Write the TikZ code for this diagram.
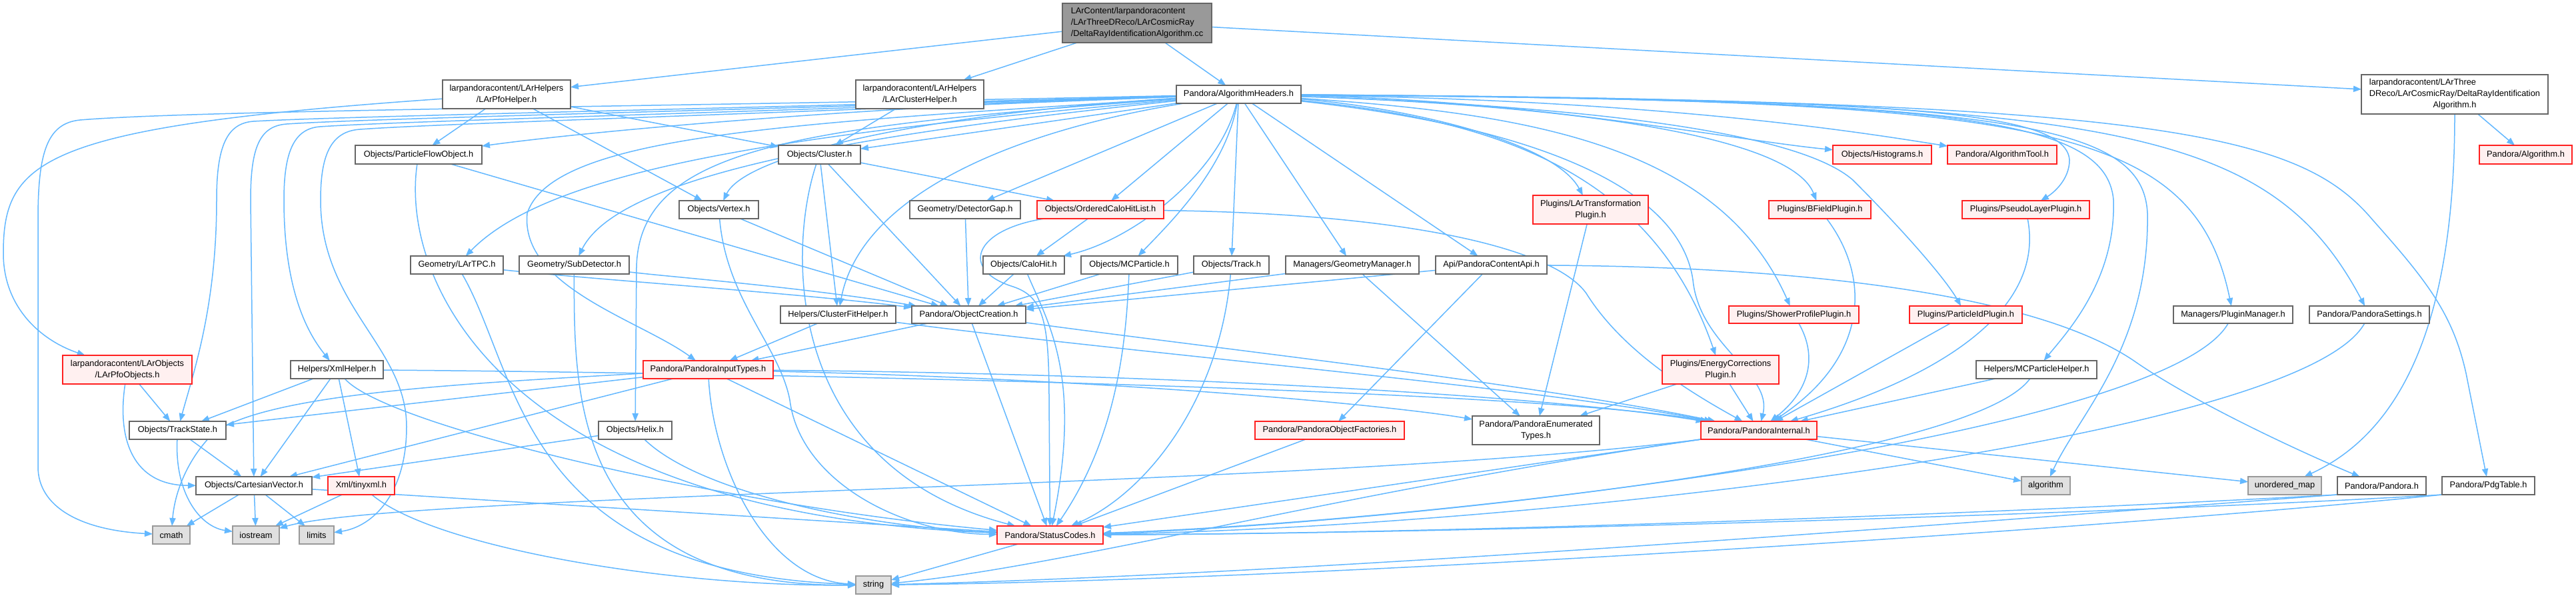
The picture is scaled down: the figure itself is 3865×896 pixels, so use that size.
\documentclass[tikz,border=0pt]{standalone}
\usepackage{fontspec}
\setmainfont{Liberation Sans}
\usetikzlibrary{arrows.meta}
\pgfdeclarelayer{bg}
\pgfsetlayers{bg,main}
\definecolor{edgec}{HTML}{63B8FF}
\definecolor{bordc}{HTML}{666666}
\definecolor{redb}{HTML}{FF2020}
\definecolor{redf}{HTML}{FFF0F0}
\definecolor{grayb}{HTML}{999999}
\definecolor{grayf}{HTML}{E0E0E0}
\definecolor{topf}{HTML}{999999}
\newcommand\gnode[7]{\node[#2, minimum width={(#5-#3)*0.5pt}, minimum height={(#6-#4)*0.5pt}] (#1) at ({(#3+#5)/2},{(#4+#6)/2}) {#7};}
\begin{document}
\begin{tikzpicture}[x=0.5pt,y=-0.5pt,
  font=\fontsize{6.4}{8.5}\selectfont,
  base/.style={draw, line width=1pt, inner sep=0pt, outer sep=0pt, align=center},
  wbox/.style={base, draw=bordc, fill=white},
  rbox/.style={base, draw=redb, fill=redf},
  gbox/.style={base, draw=grayb, fill=grayf},
  tbox/.style={base, draw=bordc, fill=topf, align=left},
  ed/.style={draw=edgec, line width=0.75pt, -{Triangle[length=6pt,width=4.6pt]}}]
\useasboundingbox (0,0) rectangle (3865,896);
% ---- nodes ----
\gnode{top}{tbox}{1594}{5}{1818}{64}{LArContent/larpandoracontent\\/LArThreeDReco/LArCosmicRay\\/DeltaRayIdentificationAlgorithm.cc}
\gnode{pfoh}{wbox}{664}{120}{856}{163}{larpandoracontent/LArHelpers\\/LArPfoHelper.h}
\gnode{clh}{wbox}{1284}{120}{1476}{163}{larpandoracontent/LArHelpers\\/LArClusterHelper.h}
\gnode{ah}{wbox}{1765}{128}{1952}{155}{Pandora/AlgorithmHeaders.h}
\gnode{dra}{wbox}{3543}{112}{3823}{171}{\begin{tabular}{@{}l@{}}larpandoracontent/LArThree\\DReco/LArCosmicRay/DeltaRayIdentification\\\multicolumn{1}{@{}c@{}}{Algorithm.h}\end{tabular}}
\gnode{pfo}{wbox}{533}{218}{723}{246}{Objects/ParticleFlowObject.h}
\gnode{clu}{wbox}{1168}{218}{1291}{246}{Objects/Cluster.h}
\gnode{hist}{rbox}{2750}{218}{2898}{246}{Objects/Histograms.h}
\gnode{atool}{rbox}{2922}{218}{3086}{246}{Pandora/AlgorithmTool.h}
\gnode{alg}{rbox}{3720}{218}{3859}{246}{Pandora/Algorithm.h}
\gnode{vtx}{wbox}{1019}{301}{1138}{328}{Objects/Vertex.h}
\gnode{dgap}{wbox}{1365}{301}{1531}{328}{Geometry/DetectorGap.h}
\gnode{ochl}{rbox}{1556}{301}{1746}{328}{Objects/OrderedCaloHitList.h}
\gnode{ltp}{rbox}{2300}{293}{2473}{336}{Plugins/LArTransformation\\Plugin.h}
\gnode{bfp}{rbox}{2654}{301}{2807}{328}{Plugins/BFieldPlugin.h}
\gnode{plp}{rbox}{2944}{301}{3135}{328}{Plugins/PseudoLayerPlugin.h}
\gnode{tpc}{wbox}{616}{384}{755}{411}{Geometry/LArTPC.h}
\gnode{subd}{wbox}{779}{384}{944}{411}{Geometry/SubDetector.h}
\gnode{calo}{wbox}{1475}{384}{1597}{411}{Objects/CaloHit.h}
\gnode{mcp}{wbox}{1622}{384}{1767}{411}{Objects/MCParticle.h}
\gnode{trk}{wbox}{1791}{384}{1904}{411}{Objects/Track.h}
\gnode{gm}{wbox}{1929}{384}{2129}{411}{Managers/GeometryManager.h}
\gnode{api}{wbox}{2154}{384}{2321}{411}{Api/PandoraContentApi.h}
\gnode{cfh}{wbox}{1171}{459}{1344}{485}{Helpers/ClusterFitHelper.h}
\gnode{oc}{wbox}{1368}{459}{1539}{485}{Pandora/ObjectCreation.h}
\gnode{spp}{rbox}{2594}{459}{2789}{485}{Plugins/ShowerProfilePlugin.h}
\gnode{pidp}{rbox}{2865}{459}{3034}{485}{Plugins/ParticleIdPlugin.h}
\gnode{pm}{wbox}{3261}{459}{3440}{485}{Managers/PluginManager.h}
\gnode{ps}{wbox}{3465}{459}{3645}{485}{Pandora/PandoraSettings.h}
\gnode{lpo}{rbox}{94}{533}{288}{576}{larpandoracontent/LArObjects\\/LArPfoObjects.h}
\gnode{xml}{wbox}{436}{541}{575}{568}{Helpers/XmlHelper.h}
\gnode{pit}{rbox}{965}{541}{1160}{568}{Pandora/PandoraInputTypes.h}
\gnode{ecp}{rbox}{2494}{533}{2669}{576}{Plugins/EnergyCorrections\\Plugin.h}
\gnode{mcph}{wbox}{2965}{541}{3146}{568}{Helpers/MCParticleHelper.h}
\gnode{ts}{wbox}{194}{632}{339}{659}{Objects/TrackState.h}
\gnode{helix}{wbox}{898}{632}{1008}{659}{Objects/Helix.h}
\gnode{pof}{rbox}{1883}{632}{2107}{659}{Pandora/PandoraObjectFactories.h}
\gnode{pet}{wbox}{2209}{624}{2400}{667}{Pandora/PandoraEnumerated\\Types.h}
\gnode{pint}{rbox}{2552}{632}{2726}{659}{Pandora/PandoraInternal.h}
\gnode{cv}{wbox}{294}{715}{468}{742}{Objects/CartesianVector.h}
\gnode{txml}{rbox}{492}{715}{592}{742}{Xml/tinyxml.h}
\gnode{algo}{gbox}{3033}{715}{3106}{742}{algorithm}
\gnode{umap}{gbox}{3373}{715}{3483}{742}{unordered\_map}
\gnode{pan}{wbox}{3507}{715}{3640}{742}{Pandora/Pandora.h}
\gnode{pdg}{wbox}{3664}{715}{3803}{742}{Pandora/PdgTable.h}
\gnode{cmath}{gbox}{229}{789}{285}{816}{cmath}
\gnode{ios}{gbox}{349}{789}{419}{816}{iostream}
\gnode{lim}{gbox}{449}{789}{501}{816}{limits}
\gnode{sc}{rbox}{1496}{789}{1655}{816}{Pandora/StatusCodes.h}
\gnode{str}{gbox}{1284}{864}{1337}{891}{string}
% ---- edges ----
\begin{pgfonlayer}{bg}
\fill[white] (0,0) rectangle (3865,896);
\draw[ed] (top) -- (pfoh);
\draw[ed] (top) -- (clh);
\draw[ed] (top) -- (ah);
\draw[ed] (top) -- (dra);
\draw[ed] (pfoh) -- (pfo);
\draw[ed] (pfoh) -- (clu);
\draw[ed] (pfoh) -- (vtx);
\draw[ed] (pfoh) .. controls (60,190) and (5,240) .. (5,380) .. controls (5,460) and (60,510) .. (lpo);
\draw[ed] (clh) -- (clu);
% AlgorithmHeaders, left side
\draw[ed] (ah) .. controls (1300,160) and (900,195) .. (pfo);
\draw[ed] (ah) -- (clu);
\draw[ed] (ah) .. controls (1400,170) and (1120,230) .. (vtx);
\draw[ed] (ah) -- (dgap);
\draw[ed] (ah) -- (ochl);
\draw[ed] (ah) .. controls (1200,200) and (830,250) .. (tpc);
\draw[ed] (ah) .. controls (1300,200) and (930,260) .. (subd);
\draw[ed] (ah) .. controls (1830,260) and (1700,360) .. (calo);
\draw[ed] (ah) .. controls (1840,250) and (1760,330) .. (mcp);
\draw[ed] (ah) -- (trk);
\draw[ed] (ah) -- (gm);
\draw[ed] (ah) -- (api);
\draw[ed] (ah) .. controls (1500,200) and (1290,300) .. (cfh);
\draw[ed] (ah) .. controls (1000,160) and (300,165) .. (120,180) .. controls (70,185) and (57,230) .. (57,330) -- (57,700) .. controls (57,760) and (120,795) .. (cmath);
\draw[ed] (ah) .. controls (1000,165) and (500,175) .. (380,182) .. controls (340,185) and (325,220) .. (325,300) .. controls (325,460) and (290,560) .. (ts);
\draw[ed] (ah) .. controls (1000,168) and (550,178) .. (430,186) .. controls (390,189) and (376,220) .. (376,300) -- (cv);
\draw[ed] (ah) .. controls (1000,172) and (600,182) .. (480,190) .. controls (440,193) and (426,230) .. (426,300) .. controls (426,450) and (470,510) .. (xml);
\draw[ed] (ah) .. controls (1000,176) and (650,186) .. (540,194) .. controls (495,197) and (481,235) .. (481,300) .. controls (481,460) and (610,520) .. (610,640) .. controls (610,740) and (560,790) .. (lim);
\draw[ed] (ah) .. controls (1200,185) and (830,200) .. (791,320) .. controls (780,430) and (960,480) .. (pit);
\draw[ed] (ah) .. controls (1200,190) and (960,220) .. (955,400) -- (helix);
% AlgorithmHeaders, right side
\draw[ed] (ah) .. controls (2300,150) and (2600,210) .. (hist);
\draw[ed] (ah) .. controls (2500,150) and (2800,200) .. (atool);
\draw[ed] (ah) .. controls (2100,160) and (2330,210) .. (ltp);
\draw[ed] (ah) .. controls (2400,160) and (2690,210) .. (bfp);
\draw[ed] (ah) .. controls (2800,150) and (3100,160) .. (3105,240) .. controls (3105,270) and (3080,290) .. (plp);
\draw[ed] (ah) .. controls (2300,170) and (2580,220) .. (spp);
\draw[ed] (ah) .. controls (2400,160) and (2700,200) .. (2780,270) .. controls (2860,350) and (2920,420) .. (pidp);
\draw[ed] (ah) .. controls (3050,150) and (3290,180) .. (pm);
\draw[ed] (ah) .. controls (3150,150) and (3400,180) .. (ps);
\draw[ed] (ah) .. controls (2250,180) and (2480,260) .. (ecp);
\draw[ed] (ah) .. controls (2900,150) and (3160,170) .. (3171,300) .. controls (3175,420) and (3100,500) .. (mcph);
\draw[ed] (ah) .. controls (3000,150) and (3215,180) .. (3222,320) .. controls (3225,520) and (3120,620) .. (algo);
\draw[ed] (ah) .. controls (3250,150) and (3450,200) .. (3560,330) .. controls (3640,420) and (3680,470) .. (3700,560) -- (pdg);
\draw[ed] (ah) .. controls (2300,190) and (2520,280) .. (2540,420) .. controls (2550,520) and (2660,560) .. (pint);
% Cluster, PFO, Vertex ...
\draw[ed] (clu) -- (ochl);
\draw[ed] (clu) -- (cfh);
\draw[ed] (clu) -- (oc);
\draw[ed] (clu) .. controls (1180,380) and (1180,700) .. (sc);
\draw[ed] (pfo) -- (oc);
\draw[ed] (pfo) .. controls (600,420) and (750,770) .. (sc);
\draw[ed] (vtx) -- (oc);
\draw[ed] (vtx) .. controls (1090,450) and (1170,520) .. (1185,600) .. controls (1200,720) and (1350,800) .. (sc);
\draw[ed] (dgap) -- (oc);
\draw[ed] (ochl) -- (calo);
\draw[ed] (ochl) .. controls (1460,345) and (1440,405) .. (1520,430) .. controls (1565,445) and (1574,480) .. (1574,600) -- (sc);
\draw[ed] (ochl) .. controls (2100,320) and (2330,370) .. (2380,440) .. controls (2430,520) and (2520,580) .. (pint);
\draw[ed] (calo) -- (oc);
\draw[ed] (calo) .. controls (1570,480) and (1625,560) .. (sc);
\draw[ed] (mcp) -- (oc);
\draw[ed] (mcp) .. controls (1690,500) and (1680,650) .. (sc);
\draw[ed] (trk) -- (oc);
\draw[ed] (trk) .. controls (1830,600) and (1720,740) .. (sc);
\draw[ed] (gm) -- (oc);
\draw[ed] (gm) -- (pet);
\draw[ed] (api) -- (oc);
\draw[ed] (api) -- (pof);
\draw[ed] (api) .. controls (2700,400) and (3050,440) .. (3200,540) .. controls (3300,610) and (3480,690) .. (pan);
\draw[ed] (tpc) .. controls (900,420) and (1200,440) .. (oc);
\draw[ed] (subd) .. controls (1000,415) and (1200,430) .. (oc);
\draw[ed] (tpc) .. controls (780,560) and (780,860) .. (str);
\draw[ed] (subd) .. controls (861,600) and (861,880) .. (str);
\draw[ed] (cfh) -- (pit);
\draw[ed] (cfh) .. controls (1700,530) and (2300,580) .. (pint);
\draw[ed] (oc) -- (pit);
\draw[ed] (oc) -- (sc);
\draw[ed] (oc) .. controls (1800,520) and (2300,575) .. (pint);
\draw[ed] (lpo) -- (ts);
\draw[ed] (lpo) .. controls (175,660) and (200,728) .. (cv);
\draw[ed] (xml) -- (ts);
\draw[ed] (xml) -- (cv);
\draw[ed] (xml) -- (txml);
\draw[ed] (xml) .. controls (580,640) and (1100,760) .. (sc);
\draw[ed] (xml) .. controls (1200,560) and (2300,585) .. (pint);
\draw[ed] (pit) -- (ts);
\draw[ed] (pit) -- (cv);
\draw[ed] (pit) .. controls (700,575) and (400,590) .. (320,650) .. controls (280,690) and (262,740) .. (cmath);
\draw[ed] (pit) .. controls (1700,570) and (2100,610) .. (pet);
\draw[ed] (pit) .. controls (1700,560) and (2300,590) .. (pint);
\draw[ed] (pit) -- (sc);
\draw[ed] (pit) .. controls (1070,700) and (1150,870) .. (str);
\draw[ed] (ts) -- (cv);
\draw[ed] (ts) .. controls (262,740) and (300,790) .. (ios);
\draw[ed] (helix) -- (cv);
\draw[ed] (helix) .. controls (1050,740) and (1300,790) .. (sc);
\draw[ed] (cv) -- (cmath);
\draw[ed] (cv) -- (ios);
\draw[ed] (cv) -- (lim);
\draw[ed] (cv) -- (sc);
\draw[ed] (txml) -- (ios);
\draw[ed] (txml) .. controls (650,820) and (1000,880) .. (str);
\draw[ed] (pof) -- (sc);
\draw[ed] (pint) -- (algo);
\draw[ed] (pint) -- (umap);
\draw[ed] (pint.south west) .. controls (2000,730) and (600,740) .. (ios);
\draw[ed] (pint.south west) -- (sc);
\draw[ed] (pint.south west) .. controls (2000,740) and (1600,850) .. (str);
\draw[ed] (ecp) -- (pet);
\draw[ed] (ecp) -- (pint);
\draw[ed] (ltp) -- (pet);
\draw[ed] (spp) .. controls (2730,540) and (2710,590) .. (pint);
\draw[ed] (bfp) .. controls (2810,420) and (2800,540) .. (pint);
\draw[ed] (pidp) -- (pint);
\draw[ed] (plp) .. controls (3070,470) and (2900,570) .. (pint);
\draw[ed] (mcph) -- (pint);
\draw[ed] (mcph) .. controls (2950,700) and (2000,790) .. (sc);
\draw[ed] (pm) .. controls (3250,650) and (2200,780) .. (sc);
\draw[ed] (ps) .. controls (3450,660) and (2300,790) .. (sc);
\draw[ed] (pan.south west) .. controls (3000,770) and (2200,800) .. (sc);
\draw[ed] (pan.south west) .. controls (3000,780) and (2000,860) .. (str);
\draw[ed] (pdg.south west) .. controls (3200,770) and (2200,800) .. (sc);
\draw[ed] (pdg.south west) .. controls (3200,790) and (2000,870) .. (str);
\draw[ed] (sc) -- (str);
\draw[ed] (dra) -- (alg);
\draw[ed] (dra) .. controls (3683,450) and (3620,640) .. (umap);
\end{pgfonlayer}
\end{tikzpicture}
\end{document}
